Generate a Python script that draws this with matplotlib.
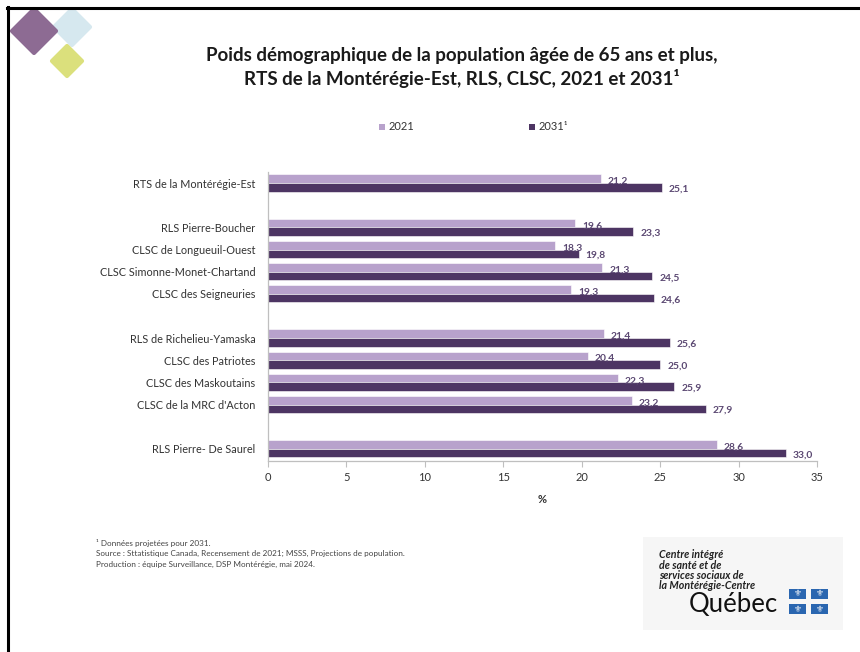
import matplotlib
matplotlib.use("Agg")
import matplotlib.pyplot as plt
from matplotlib.patches import Rectangle, Polygon
import numpy as np

plt.rcParams['font.family'] = ['Lato', 'DejaVu Sans']

categories = ["RTS de la Montérégie-Est", "", "RLS Pierre-Boucher", "CLSC de Longueuil-Ouest",
              "CLSC Simonne-Monet-Chartand", "CLSC des Seigneuries", "",
              "RLS de Richelieu-Yamaska", "CLSC des Patriotes", "CLSC des Maskoutains",
              "CLSC de la MRC d'Acton", "", "RLS Pierre- De Saurel"]
values_2021 = [21.2, None, 19.6, 18.3, 21.3, 19.3, None, 21.4, 20.4, 22.3, 23.2, None, 28.6]
values_2031 = [25.1, None, 23.3, 19.8, 24.5, 24.6, None, 25.6, 25.0, 25.9, 27.9, None, 33.0]
xticks = [0, 5, 10, 15, 20, 25, 30, 35]

c21 = "#b8a2cc"
c31 = "#4d3563"
lab_col = "#5b4872"

W, H = 860, 652
fig = plt.figure(figsize=(W / 100, H / 100), dpi=100)

def fx(px):
    return px / W

def fy(py):
    return 1 - py / H

# slide border (top and left)
fig.add_artist(plt.Line2D([fx(7), fx(860)], [fy(8), fy(8)], color="black", lw=2.2))
fig.add_artist(plt.Line2D([fx(8), fx(8)], [fy(7), fy(652)], color="black", lw=2.2))

# decorative diamonds top-left
def diamond(cx, cy, r, color):
    pts = [(fx(cx), fy(cy - r)), (fx(cx + r), fy(cy)), (fx(cx), fy(cy + r)), (fx(cx - r), fy(cy))]
    fig.add_artist(Polygon(pts, closed=True, transform=fig.transFigure, color=color, lw=3,
                           joinstyle="round"))

diamond(72, 27, 18, "#d6e8ef")
diamond(34, 31, 22, "#8d6b93")
diamond(67, 61, 15, "#dbe07c")

ax = fig.add_axes([fx(268), fy(461), fx(817) - fx(268), fy(172) - fy(461)])

n = len(categories)
y = np.arange(n)
bh = 0.39
for i in range(n):
    if values_2021[i] is None:
        continue
    ax.barh(y[i] - bh / 2, values_2021[i], height=bh, color=c21, edgecolor="white", lw=0.4)
    ax.barh(y[i] + bh / 2, values_2031[i], height=bh, color=c31, edgecolor="white", lw=0.4)
    ax.text(values_2021[i] + 0.45, y[i] - bh / 2 + 0.12, f"{values_2021[i]:.1f}".replace(".", ","),
            va="center", ha="left", fontsize=7.4, color=lab_col, fontweight="bold")
    ax.text(values_2031[i] + 0.45, y[i] + bh / 2 + 0.08, f"{values_2031[i]:.1f}".replace(".", ","),
            va="center", ha="left", fontsize=7.4, color=lab_col, fontweight="bold")

ax.set_ylim(n - 0.5 + 0.05, -0.5)
ax.set_xlim(0, 35)
ax.set_yticks([i for i in range(n) if categories[i]])
ax.set_yticklabels([c for c in categories if c], fontsize=7.8, color="#333333")
ax.set_xticks(xticks)
ax.set_xticklabels([str(t) for t in xticks], fontsize=8, color="#333333")
ax.tick_params(axis="y", length=0, pad=9)
ax.tick_params(axis="x", length=4, color="#bfbfbf", direction="out", pad=4)
for s in ["top", "right"]:
    ax.spines[s].set_visible(False)
ax.spines["left"].set_color("#bfbfbf")
ax.spines["bottom"].set_color("#bfbfbf")
ax.spines["left"].set_linewidth(0.9)
ax.spines["bottom"].set_linewidth(0.9)
ax.set_xlabel("%", fontsize=8, fontweight="bold", color="#333333", labelpad=8)

# title
fig.text(fx(462), fy(56), "Poids démographique de la population âgée de 65 ans et plus,",
         ha="center", va="center", fontsize=13.5, fontweight="bold", color="#1a1a1a")
fig.text(fx(462), fy(79), "RTS de la Montérégie-Est, RLS, CLSC, 2021 et 2031¹",
         ha="center", va="center", fontsize=13.5, fontweight="bold", color="#1a1a1a")

# legend
fig.add_artist(Rectangle((fx(379), fy(130)), fx(6), fy(0) - fy(6), transform=fig.transFigure,
                         color=c21, lw=0))
fig.text(fx(389), fy(126.5), "2021", ha="left", va="center", fontsize=8, color="#333333")
fig.add_artist(Rectangle((fx(529), fy(130)), fx(6), fy(0) - fy(6), transform=fig.transFigure,
                         color=c31, lw=0))
fig.text(fx(539), fy(126.5), "2031¹", ha="left", va="center", fontsize=8, color="#333333")

# footnotes
foot = ["¹ Données projetées pour 2031.",
        "Source : Sttatistique Canada, Recensement de 2021; MSSS, Projections de population.",
        "Production : équipe Surveillance, DSP Montérégie, mai 2024."]
for k, t in enumerate(foot):
    fig.text(fx(96), fy(543 + k * 10.5), t, ha="left", va="center", fontsize=5.9, color="#444444")

# logo box bottom-right
fig.add_artist(Rectangle((fx(643), fy(630)), fx(843) - fx(643), fy(537) - fy(630),
                         transform=fig.transFigure, color="#f6f6f6", lw=0))
logo_lines = ["Centre intégré", "de santé et de", "services sociaux de", "la Montérégie-Centre"]
for k, t in enumerate(logo_lines):
    fig.text(fx(659), fy(555 + k * 10.2), t, ha="left", va="center", fontsize=7.7,
             fontweight="bold", fontstyle="italic", color="#222222")
fig.text(fx(689), fy(612), "Québec", ha="left", va="baseline", fontsize=18.5, color="#111111")
for (qx, qy) in [(789, 589), (811, 589), (789, 604), (811, 604)]:
    fig.add_artist(Rectangle((fx(qx), fy(qy + 10)), fx(17), fy(0) - fy(10),
                             transform=fig.transFigure, color="#2a66b0", lw=0))
    fig.text(fx(qx + 8.5), fy(qy + 5), "⚜", ha="center", va="center", fontsize=6.5, color="white",
             family=["DejaVu Sans"])

fig.savefig("out.png", dpi=100)
